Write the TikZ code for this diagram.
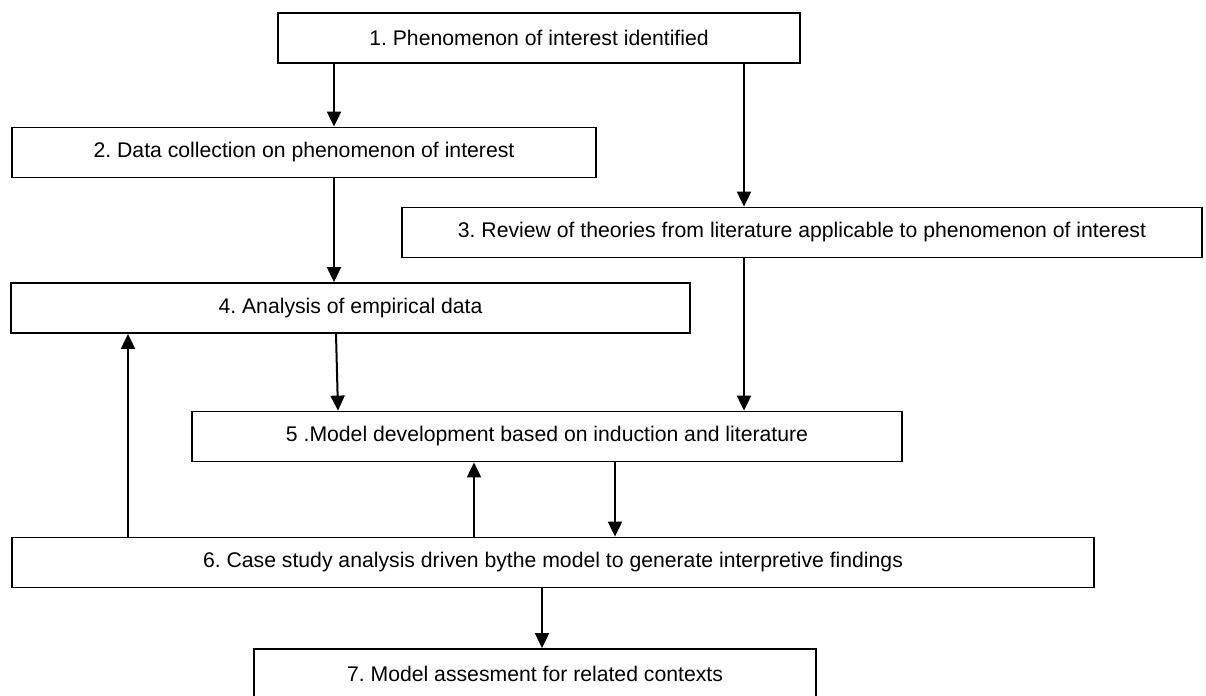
\documentclass[tikz,border=0pt]{standalone}
\usepackage{fontspec}
\setmainfont{Liberation Sans}
\usetikzlibrary{arrows.meta}
\frenchspacing

\begin{document}
\begin{tikzpicture}[x=0.5pt,y=-0.5pt,
  stage/.style={draw,line width=0.9pt,minimum height=25pt,inner sep=0pt,
    font=\fontsize{10.6}{12}\selectfont},
  flow/.style={-{Triangle[length=7.5pt,width=7pt]},line width=1pt}]
  \useasboundingbox (0,0) rectangle (1206,696);
  % stages of the research process
  \node[stage,minimum width=261pt] (s1) at (539,38) {1. Phenomenon of interest identified};
  \node[stage,minimum width=292pt] (s2) at (304,152.5) {2. Data collection on phenomenon of interest};
  \node[stage,minimum width=400pt] (s3) at (802,232.5) {3. Review of theories from literature applicable to phenomenon of interest};
  \node[stage,minimum width=339.5pt] (s4) at (350.5,308) {4. Analysis of empirical data};
  \node[stage,minimum width=355pt] (s5) at (547,436.5) {5 .Model development based on induction and literature};
  \node[stage,minimum width=541pt] (s6) at (553,562.5) {6. Case study analysis driven bythe model to generate interpretive findings};
  \node[stage,minimum width=281pt] (s7) at (535,674) {7. Model assesment for related contexts};
  % downward flow
  \draw[flow] (s1.south -| 334,0) -- (s2.north -| 334,0);
  \draw[flow] (s1.south -| 744,0) -- (s3.north -| 744,0);
  \draw[flow] (s2.south -| 334,0) -- (s4.north -| 334,0);
  \draw[flow] (s3.south -| 744,0) -- (s5.north -| 744,0);
  \draw[flow] (s4.south -| 336,0) -- (s5.north -| 338,0);
  \draw[flow] (s5.south -| 615,0) -- (s6.north -| 615,0);
  \draw[flow] (s6.south -| 542,0) -- (s7.north -| 542,0);
  % feedback
  \draw[flow] (s6.north -| 128,0) -- (s4.south -| 128,0);
  \draw[flow] (s6.north -| 474,0) -- (s5.south -| 474,0);
\end{tikzpicture}
\end{document}
